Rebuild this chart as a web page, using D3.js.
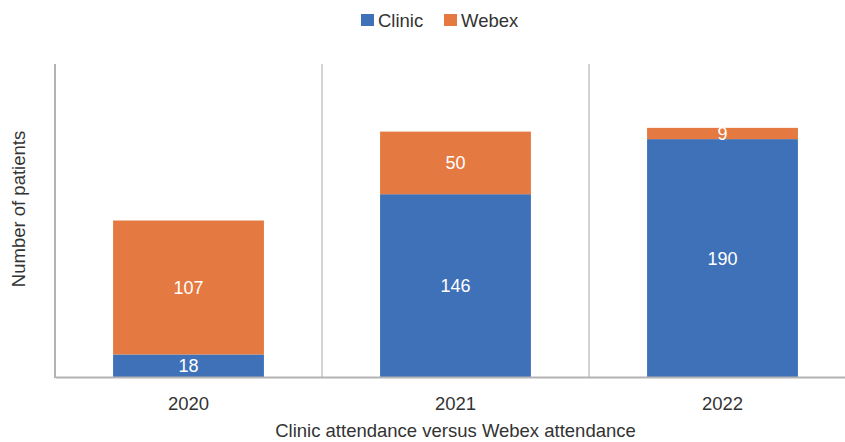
<!DOCTYPE html>
<html>
<head>
<meta charset="utf-8">
<script src="https://cdn.jsdelivr.net/npm/d3@7"></script>
<style>
body { margin: 0; background: #fff; }
svg { font-family: "Liberation Sans", Arial, sans-serif; }
</style>
</head>
<body>
<svg width="845" height="442"></svg>
<script>
// chart values
var years = ["2020", "2021", "2022"];
var clinic = [18, 146, 190];
var webex = [107, 50, 9];
var seriesNames = ["Clinic", "Webex"];
var colors = ["#3f71b8", "#e47a41"];

var svg = d3.select("svg");
var margin = {left: 55, right: -11, top: 64, bottom: 65};
var width = 845, height = 442;

var rows = years.map(function(y, i) {
    return {year: y, Clinic: clinic[i], Webex: webex[i]};
});

var xscale = d3.scaleBand()
    .domain(years)
    .range([margin.left, width - margin.right])
    .paddingInner(0.435)
    .paddingOuter(0.2175);

var yscale = d3.scaleLinear()
    .domain([0, 250])
    .range([height - margin.bottom, margin.top]);

var step = xscale.step();

// vertical grid lines between categories
svg.append("g")
    .selectAll("line")
    .data(years.slice(1))
    .enter()
    .append("line")
    .attr("x1", function(d) { return xscale(d) - (step - xscale.bandwidth()) / 2; })
    .attr("x2", function(d) { return xscale(d) - (step - xscale.bandwidth()) / 2; })
    .attr("y1", yscale(250))
    .attr("y2", yscale(0))
    .attr("stroke", "#c4c4c4")
    .attr("stroke-width", 1.5);

var stack = d3.stack().keys(seriesNames)(rows);

var layers = svg.append("g")
    .selectAll("g")
    .data(stack)
    .enter()
    .append("g")
    .attr("fill", function(d, i) { return colors[i]; });

layers.selectAll("rect")
    .data(function(d) { return d; })
    .enter()
    .append("rect")
    .attr("x", function(d) { return xscale(d.data.year); })
    .attr("width", xscale.bandwidth())
    .attr("y", function(d) { return yscale(d[1]); })
    .attr("height", function(d) { return yscale(d[0]) - yscale(d[1]); });

layers.selectAll("text")
    .data(function(d) { return d.map(function(p) { return {p: p, key: d.key}; }); })
    .enter()
    .append("text")
    .attr("x", function(d) { return xscale(d.p.data.year) + xscale.bandwidth() / 2; })
    .attr("y", function(d) { return (yscale(d.p[0]) + yscale(d.p[1])) / 2; })
    .attr("dy", "0.36em")
    .attr("text-anchor", "middle")
    .attr("fill", "#fff")
    .style("font-size", "18px")
    .text(function(d) { return d.p.data[d.key]; });

// axes lines
svg.append("line")
    .attr("x1", margin.left).attr("x2", margin.left)
    .attr("y1", yscale(250)).attr("y2", yscale(0) + 1)
    .attr("stroke", "#b3b3b3").attr("stroke-width", 2);

var xaxis = svg.append("g")
    .attr("transform", "translate(0," + yscale(0) + ")")
    .call(d3.axisBottom(xscale).tickSize(0).tickPadding(20));
xaxis.select(".domain").attr("stroke", "#b3b3b3").attr("stroke-width", 2);
xaxis.selectAll("text")
    .style("font-size", "18.5px")
    .style("font-family", "Liberation Sans, Arial, sans-serif")
    .attr("fill", "#333");

// axis titles
svg.append("text")
    .attr("x", (margin.left + width - margin.right) / 2)
    .attr("y", 437)
    .attr("text-anchor", "middle")
    .attr("fill", "#333")
    .style("font-size", "18.5px")
    .text("Clinic attendance versus Webex attendance");

svg.append("text")
    .attr("transform", "translate(25,209) rotate(-90)")
    .attr("text-anchor", "middle")
    .attr("fill", "#333")
    .style("font-size", "18.5px")
    .text("Number of patients");

// legend
var legendX = [361, 444];
var legend = svg.append("g")
    .selectAll("g")
    .data(seriesNames)
    .enter()
    .append("g")
    .attr("transform", function(d, i) { return "translate(" + legendX[i] + ",14)"; });
legend.append("rect")
    .attr("width", 13).attr("height", 12)
    .attr("fill", function(d, i) { return colors[i]; });
legend.append("text")
    .attr("x", 17).attr("y", 13)
    .attr("fill", "#333")
    .style("font-size", "18.5px")
    .text(function(d) { return d; });
</script>
</body>
</html>
